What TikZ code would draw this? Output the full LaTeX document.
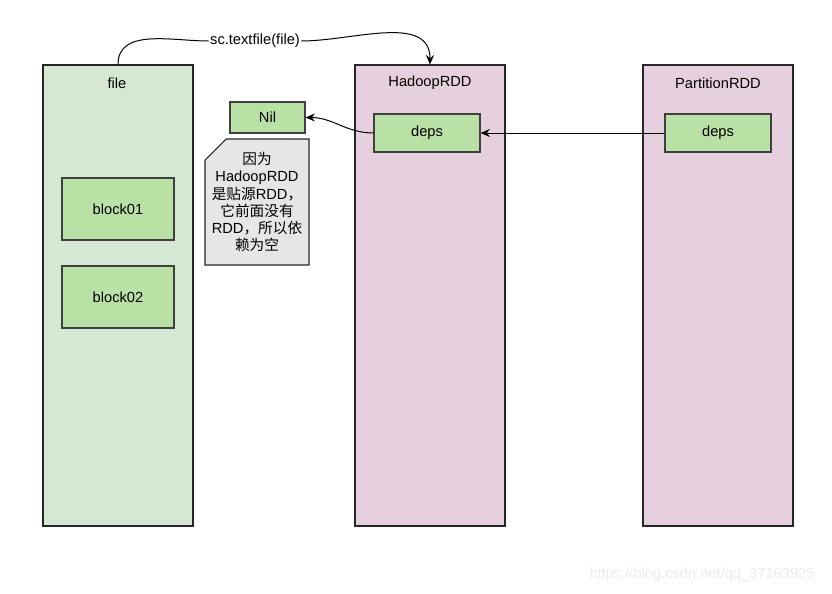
\documentclass[tikz,border=0pt]{standalone}
\usepackage{fontspec}
\setmainfont{Liberation Sans}
\newfontfamily\cjk{Noto Sans CJK SC}
\usetikzlibrary{arrows.meta, positioning, shapes.misc}
\definecolor{colgreen}{HTML}{D5E8D4}
\definecolor{colpurple}{HTML}{E6D0DE}
\definecolor{boxgreen}{HTML}{B9E0A5}
\definecolor{notegray}{HTML}{E6E6E6}
\tikzset{
  column/.style = {
    rectangle,
    minimum width=112.5pt,
    minimum height=345.75pt,
    draw=black!85,
    line width=0.8pt,
    inner sep=0pt
  },
  block/.style = {
    rectangle,
    minimum width=84pt,
    minimum height=46.5pt,
    draw=black!75,
    fill=boxgreen,
    line width=0.8pt,
    font=\fontsize{11}{13}\selectfont
  },
  title/.style = {
    font=\fontsize{11}{13}\selectfont
  },
  arrow/.style = {
    -{Stealth[length=7pt,width=6pt]},
    line width=0.75pt,
    draw=black
  }
}

\begin{document}
\begin{tikzpicture}[x=0.75pt, y=-0.75pt]
\useasboundingbox (0,0) rectangle (832,593);

% ===== Colunas =====
\node (fileCol) [column, fill=colgreen] at (118,295.5) {};
\node (hadoopCol) [column, fill=colpurple] at (430,295.5) {};
\node (partCol) [column, fill=colpurple] at (718,295.5) {};

\node (fileTitle) [title] at (117,83) {file};
\node (hadoopTitle) [title] at (430,83) {HadoopRDD};
\node (partTitle) [title] at (718,83) {PartitionRDD};

% ===== Blocos =====
\node (block1) [block] at (118,209) {block01};
\node (block2) [block] at (118,297) {block02};

\node (hadoopDeps) [block, minimum width=79.5pt, minimum height=28.5pt] at (427,133) {deps};
\node (partDeps) [block, minimum width=79.5pt, minimum height=28.5pt] at (718,133) {deps};
\node (nil) [block, minimum width=56.25pt, minimum height=23.25pt] at (267.5,117.5) {Nil};

% ===== Nota =====
\draw [fill=notegray, draw=black!85, line width=0.8pt]
  (205,160) -- (226,139) -- (309,139) -- (309,265) -- (205,265) -- cycle;
\node (note) [align=center, font=\fontsize{11}{12.8}\selectfont, inner sep=0pt] at (257,202)
  {{\cjk 因为}\\HadoopRDD\\{\cjk 是贴源}RDD{\cjk ，}\\{\cjk 它前面没有}\\RDD{\cjk ，所以依}\\{\cjk 赖为空}};

% ===== Setas =====
\node (call) [title, fill=white, inner sep=1pt] at (255,41) {sc.textfile(file)};
\draw [line width=0.75pt] (fileCol.north) to[out=90, in=180] (call.west);
\draw [arrow] (call.east) to[out=0, in=90] (hadoopCol.north);

\draw [arrow] (partDeps.west) -- (hadoopDeps.east);
\draw [arrow] (hadoopDeps.west) to[out=180, in=0] (nil.east);

% marca d'agua
\node (mark) [font=\fontsize{11}{13}\selectfont, text=black!8] at (702,575) {https://blog.csdn.net/qq\_37163925};

\end{tikzpicture}
\end{document}
